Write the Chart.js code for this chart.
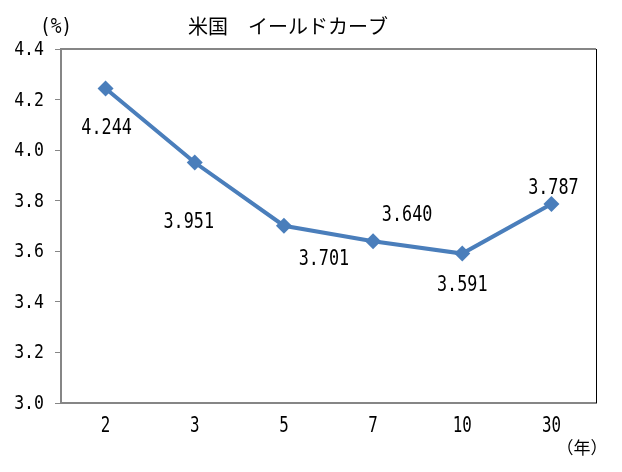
<!DOCTYPE html>
<html>
<head>
<meta charset="utf-8">
<script src="https://cdn.jsdelivr.net/npm/chart.js"></script>
<style>
  html, body { margin: 0; padding: 0; background: #fff; }
  #wrap { width: 622px; height: 472px; position: relative; }
</style>
</head>
<body>
<div id="wrap"><canvas id="chart"></canvas></div>
<script>
// data
const years = ['2', '3', '5', '7', '10', '30'];
const yields = [4.244, 3.951, 3.701, 3.640, 3.591, 3.787];
const yTicks = [3.0, 3.2, 3.4, 3.6, 3.8, 4.0, 4.2, 4.4];

// where each value label sits relative to its point (px)
const labelOffsets = [[1, 40], [-6, 60], [40, 34], [34, -26], [0, 32], [2, -15]];

const JP = '"Noto Sans CJK JP", "Noto Sans", sans-serif';
const MONO = '"DejaVu Sans Mono", monospace';
const BLUE = '#4a7ebb';

// narrow monospace text, a bit like the gothic digits of the original
function narrowText(ctx, text, x, y, size, sx, align) {
    ctx.save();
    ctx.font = size + 'px ' + MONO;
    ctx.textBaseline = 'middle';
    ctx.textAlign = 'left';
    const w = ctx.measureText(text).width * sx;
    let left = x;
    if (align === 'center') left = x - w / 2;
    else if (align === 'right') left = x - w;
    ctx.translate(left, y);
    ctx.scale(sx, 1);
    ctx.fillStyle = '#000';
    ctx.fillText(text, 0, 0);
    ctx.restore();
}

const decorPlugin = {
    id: 'decor',
    afterDatasetsDraw(chart) {
        const ctx = chart.ctx;
        const a = chart.chartArea;
        ctx.save();
        // frame: grey top, black right
        ctx.strokeStyle = '#868686';
        ctx.lineWidth = 2;
        ctx.beginPath();
        ctx.moveTo(a.left, a.top);
        ctx.lineTo(a.right, a.top);
        ctx.stroke();
        ctx.strokeStyle = '#000';
        ctx.lineWidth = 1;
        ctx.beginPath();
        ctx.moveTo(a.right + 0.5, a.top);
        ctx.lineTo(a.right + 0.5, a.bottom);
        ctx.stroke();
        ctx.restore();

        // tick labels from the library's scales
        const ys = chart.scales.y;
        ys.ticks.forEach((t, i) => {
            narrowText(ctx, Number(t.value).toFixed(1), a.left - 17, ys.getPixelForTick(i) + 1, 19, 0.87, 'right');
        });
        const xs = chart.scales.x;
        xs.ticks.forEach((t, i) => {
            narrowText(ctx, String(years[i]), xs.getPixelForTick(i), a.bottom + 23, 22, 0.72, 'center');
        });

        // value labels
        const meta = chart.getDatasetMeta(0);
        meta.data.forEach((pt, i) => {
            const off = labelOffsets[i];
            narrowText(ctx, yields[i].toFixed(3), pt.x + off[0], pt.y + off[1], 21, 0.8, 'center');
        });

        // title and unit labels
        ctx.save();
        ctx.fillStyle = '#000';
        ctx.textAlign = 'center';
        ctx.textBaseline = 'middle';
        ctx.font = '20px ' + JP;
        ctx.fillText('米国\u3000イールドカーブ', 288, 26);
        ctx.font = '17px ' + JP;
        ctx.fillText('（年）', 582, 448);
        ctx.restore();
        narrowText(ctx, '(%)', 56, 28, 21, 0.85, 'center');
    }
};

new Chart(document.getElementById('chart'), {
    type: 'line',
    data: {
        labels: years,
        datasets: [{
            data: yields,
            borderColor: BLUE,
            backgroundColor: BLUE,
            borderWidth: 4,
            pointStyle: 'rectRot',
            pointRadius: 8,
            pointHoverRadius: 8,
            pointBorderWidth: 0,
            tension: 0,
            fill: false,
        }]
    },
    options: {
        responsive: true,
        maintainAspectRatio: false,
        animation: false,
        events: [],
        layout: { padding: { left: 0, top: 49, right: 26, bottom: 0 } },
        plugins: {
            legend: { display: false },
            tooltip: { enabled: false },
            title: { display: false },
        },
        scales: {
            x: {
                offset: true,
                grid: { display: false },
                border: { color: '#868686', width: 2 },
                ticks: {
                    color: 'rgba(0,0,0,0)',
                    padding: 12,
                    maxRotation: 0,
                    autoSkip: false,
                    font: { family: JP, size: 18 },
                },
                afterFit(scale) { scale.height = 69; },
            },
            y: {
                min: 3.0,
                max: 4.4,
                afterBuildTicks(scale) {
                    scale.ticks = yTicks.map(v => ({ value: v }));
                },
                grid: {
                    drawOnChartArea: false,
                    drawTicks: true,
                    tickLength: 6,
                    color: '#868686',
                },
                border: { color: '#868686', width: 2 },
                ticks: {
                    color: 'rgba(0,0,0,0)',
                    padding: 10,
                    font: { family: JP, size: 18 },
                    callback: v => Number(v).toFixed(1),
                },
                afterFit(scale) { scale.width = 61; },
            }
        }
    },
    plugins: [decorPlugin]
});
</script>
</body>
</html>
